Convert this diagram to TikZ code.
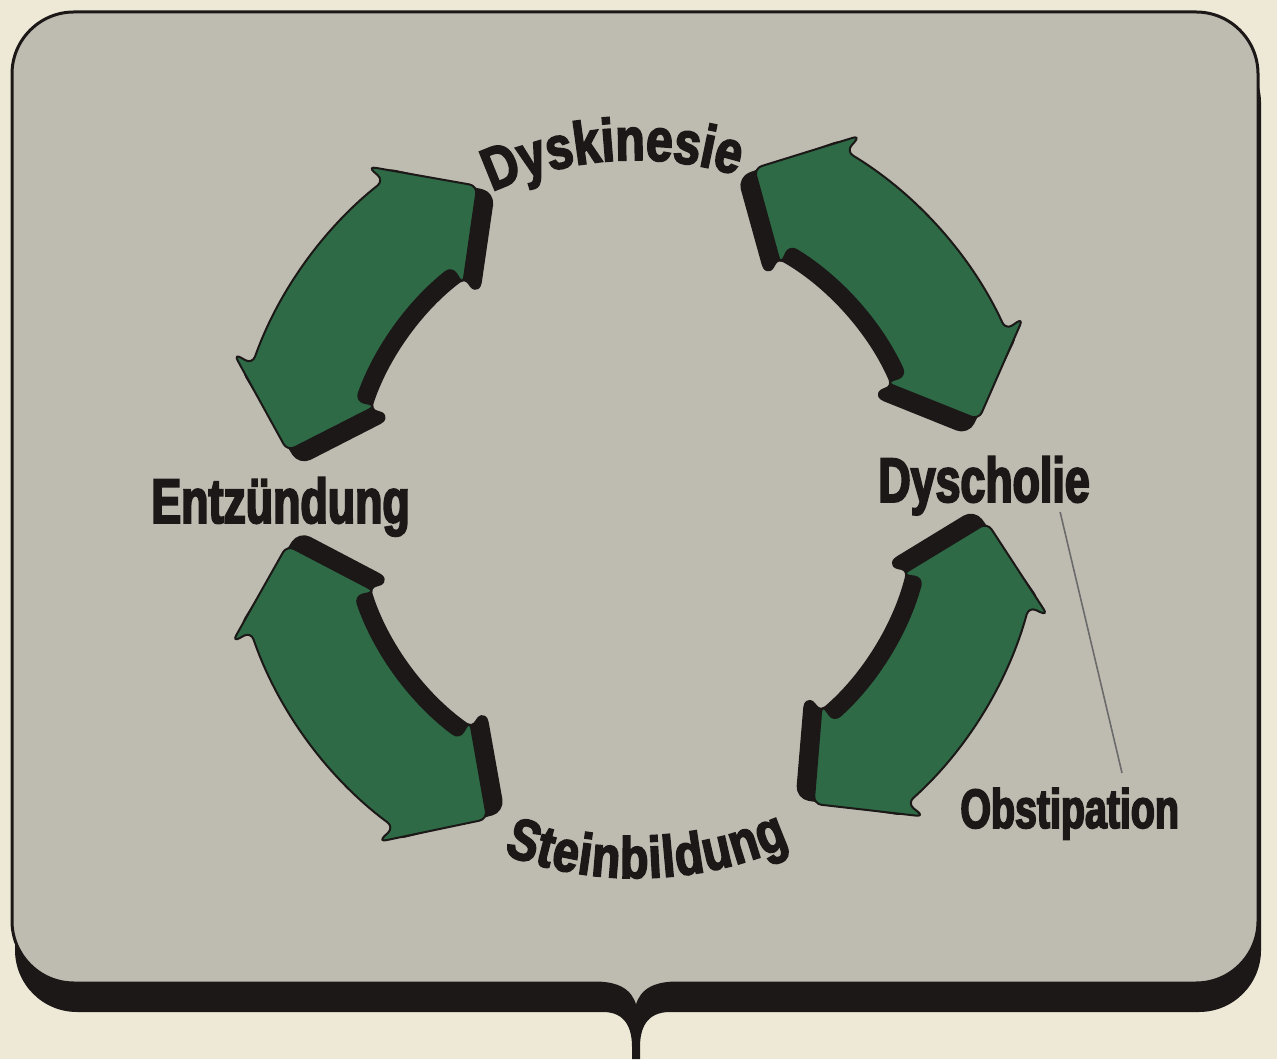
\documentclass[tikz,border=0pt]{standalone}
\usepackage{fontspec}
\newfontfamily\labelfont{Liberation Sans}[FakeStretch=0.71,BoldFeatures={FakeBold=3}]
\newfontfamily\arcfont{Liberation Sans}[FakeStretch=0.8,BoldFeatures={FakeBold=3}]
\usetikzlibrary{decorations.text,calc}

\definecolor{paper}{HTML}{EEE9D6}
\definecolor{panelgrey}{HTML}{BEBCB1}
\definecolor{cyclegreen}{HTML}{2D6A45}
\definecolor{ink}{HTML}{1C1818}

% ring of arrows
\def\rmid{352}
\def\hbody{55}
\def\hbarb{76}
\def\hdang{12}

% curved double arrow: style, radial shift, angle of one tip, angle of the other
\newcommand{\ringarrow}[4]{%
	\path[#1] ({#3}:{\rmid+(#2)}) -- ({#3+\hdang}:{\rmid+\hbarb+(#2)}) -- ({#3+\hdang-0.5}:{\rmid+\hbody+(#2)})
		arc[start angle={#3+\hdang-0.5}, end angle={#4-\hdang+0.5}, radius={\rmid+\hbody+(#2)}]
		-- ({#4-\hdang}:{\rmid+\hbarb+(#2)}) -- ({#4}:{\rmid+(#2)}) -- ({#4-\hdang}:{\rmid-\hbarb+(#2)})
		-- ({#4-\hdang+0.5}:{\rmid-\hbody+(#2)})
		arc[start angle={#4-\hdang+0.5}, end angle={#3+\hdang-0.5}, radius={\rmid-\hbody+(#2)}]
		-- ({#3+\hdang}:{\rmid-\hbarb+(#2)}) -- cycle;}

\tikzset{
	panel/.style={fill=panelgrey, draw=ink, line width=1.5pt},
	panelshadow/.style={fill=ink},
	arrowshadow/.style={fill=ink, draw=ink, line width=3.5pt, line join=round, rounded corners=5pt},
	arrowbody/.style={fill=cyclegreen, draw=ink, line width=1pt, rounded corners=4pt},
	cyclelabel/.style={text=ink, inner sep=0pt, anchor=base west, font=\labelfont\bfseries\fontsize{31.5}{36}\selectfont},
	sidelabel/.style={cyclelabel, font=\labelfont\bfseries\fontsize{27.7}{32}\selectfont},
	leader/.style={draw=gray!80!ink, line width=0.8pt},
}

\begin{document}
\begin{tikzpicture}[x=0.5pt, y=0.5pt]

		\fill[paper] (0,0) rectangle (1277,1059);
		\useasboundingbox (0,0) rectangle (1277,1059);

		% shadow of the panel, with the stem of the brace
		\path[panelshadow] (77,1018) -- (1199,1018) arc[start angle=90, end angle=0, radius=62]
			-- (1261,109) arc[start angle=0, end angle=-90, radius=62]
			-- (670,47) .. controls (646,47) and (640,30) .. (640,12) -- (640,0) -- (632,0) -- (632,12)
			.. controls (632,30) and (626,47) .. (603,47)
			-- (77,47) arc[start angle=270, end angle=180, radius=62]
			-- (15,956) arc[start angle=180, end angle=90, radius=62] -- cycle;

		% the panel
		\path[panel] (74,1047) -- (1196,1047) arc[start angle=90, end angle=0, radius=62]
			-- (1258,138) arc[start angle=0, end angle=-90, radius=62]
			-- (677,76) .. controls (648,76) and (638,64) .. (636,47)
			.. controls (634,64) and (624,76) .. (595,76)
			-- (74,76) arc[start angle=270, end angle=180, radius=62]
			-- (12,985) arc[start angle=180, end angle=90, radius=62] -- cycle;

		\coordinate (hub) at (636,559);

		\begin{scope}[shift={(hub)}]
			% shadows
			\ringarrow{arrowshadow}{-14}{115.4}{173.4}
			\ringarrow{arrowshadow}{-14}{11.8}{71.8}
			\ringarrow{arrowshadow}{-14}{-61.1}{-2.3}
			\ringarrow{arrowshadow}{-14}{186.0}{246.4}
			% arrows
			\ringarrow{arrowbody}{0}{116.8}{172}
			\ringarrow{arrowbody}{0}{13.2}{70.4}
			\ringarrow{arrowbody}{0}{-59.7}{-3.7}
			\ringarrow{arrowbody}{0}{187.4}{245}

			% curved labels
			\path[decorate, decoration={text along path, text align=fit to path,
				text={|\color{ink}\arcfont\bfseries\fontsize{30}{36}\selectfont|Dyskinesie}}]
				(115:340) arc[start angle=115, end angle=73, radius=340];
			\path[decorate, decoration={text along path, text align=fit to path,
				text={|\color{ink}\arcfont\bfseries\fontsize{29}{34}\selectfont|Steinbildung}}]
				(249.5:378) arc[start angle=249.5, end angle=294, radius=378];
		\end{scope}

		\node[cyclelabel] (entzuendung) at (151,536) {Entzündung};
		\node[cyclelabel] (dyscholie) at (878,557) {Dyscholie};
		\node[sidelabel] (obstipation) at (960,231) {Obstipation};

		\draw[leader] ($(dyscholie.base east)+(-30,-10)$) -- ($(obstipation.base west)+(162,55)$);

\end{tikzpicture}
\end{document}
